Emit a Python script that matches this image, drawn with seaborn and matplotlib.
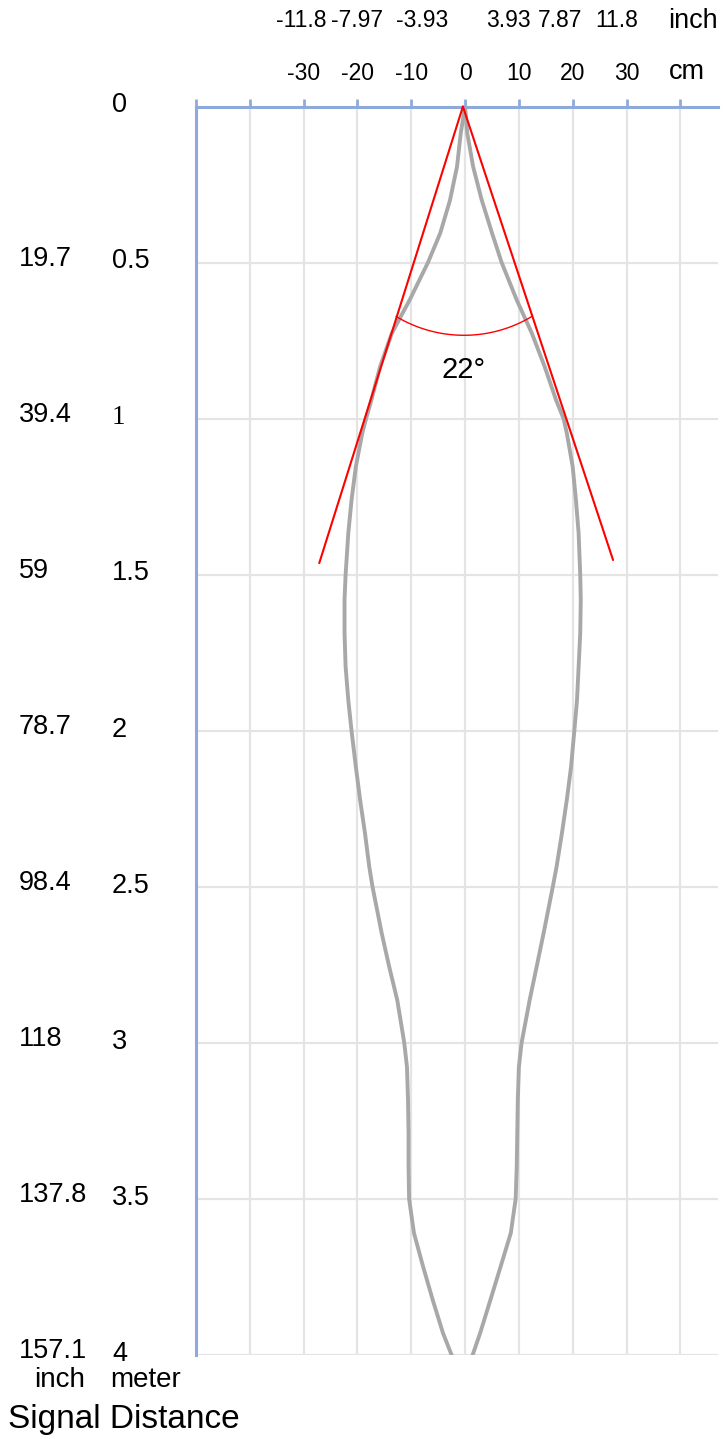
import numpy as np
import pandas as pd
import seaborn as sns
import matplotlib.pyplot as plt

# beam outline: distance (m) and half widths (cm)
depth_m = [0, 0.085, 0.193, 0.300, 0.405, 0.500, 0.620, 0.726, 0.834, 0.940,
           1.000, 1.046, 1.154, 1.261, 1.367, 1.500, 1.581, 1.687, 1.795, 1.902,
           2.000, 2.115, 2.222, 2.328, 2.436, 2.500, 2.648, 2.756, 2.863, 3.000,
           3.077, 3.183, 3.289, 3.397, 3.500, 3.609, 3.717, 3.824, 3.930, 4.000]
left_cm = [0, -0.8, -1.5, -2.8, -4.6, -6.9, -10.3, -13.6, -15.8, -17.4,
           -18.4, -19.1, -20.3, -21.1, -21.7, -22.2, -22.4, -22.4, -22.2, -21.7,
           -21.1, -20.3, -19.5, -18.6, -17.8, -17.2, -15.5, -14.1, -12.6, -11.3,
           -10.8, -10.6, -10.5, -10.5, -10.4, -9.5, -7.8, -6.0, -4.1, -2.5]
right_cm = [0, 0.4, 1.5, 3.1, 5.0, 6.8, 9.6, 12.4, 14.8, 16.9,
            18.3, 18.9, 20.0, 20.6, 21.1, 21.4, 21.5, 21.4, 21.1, 20.8,
            20.3, 19.7, 18.9, 18.0, 17.0, 16.3, 14.6, 13.3, 12.0, 10.5,
            10.0, 9.8, 9.7, 9.6, 9.4, 8.5, 6.6, 4.7, 2.8, 1.4]

# cone lines (22 deg) : apex and two ends, (cm, m)
cone_apex = (-0.4, 0.0)
cone_ends = [(-27.1, 1.463), (27.5, 1.453)]
cone_label = '22°'

# axis labels
cm_ticks = [-30, -20, -10, 0, 10, 20, 30]
inch_labels = ['-11.8', '-7.97', '-3.93', '3.93', '7.87', '11.8']
inch_label_x = [-30.5, -20.0, -8.0, 8.0, 17.7, 28.2]
meter_ticks = [0, 0.5, 1, 1.5, 2, 2.5, 3, 3.5, 4]
meter_labels = ['0', '0.5', '1', '1.5', '2', '2.5', '3', '3.5', '4']
depth_inch_labels = ['', '19.7', '39.4', '59', '78.7', '98.4', '118', '137.8', '157.1']

df = pd.concat([
    pd.DataFrame({'depth': depth_m, 'offset': left_cm, 'side': 'left'}),
    pd.DataFrame({'depth': depth_m, 'offset': right_cm, 'side': 'right'}),
])

sns.set_theme(style='white')
plt.rcParams['font.family'] = ['Liberation Sans', 'DejaVu Sans']
plt.rcParams['text.color'] = 'black'

blue = '#8eaadc'
fig = plt.figure(figsize=(7.24, 14.39), dpi=100)
ax = fig.add_axes([196 / 724, 84 / 1439, 522 / 724, 1248.5 / 1439])

sns.lineplot(data=df, x='offset', y='depth', hue='side', sort=False,
             estimator=None, palette={'left': '#a8a8a8', 'right': '#a8a8a8'},
             linewidth=2.8, legend=False, ax=ax, zorder=3)

# red cone and the angle arc
for end in cone_ends:
    ax.plot([cone_apex[0], end[0]], [cone_apex[1], end[1]], color='#ff0000',
            lw=1.5, zorder=4, clip_on=False)
t = np.radians(np.linspace(-31, 31, 60))
ax.plot(-0.2 + 24.5 * np.sin(t), 0.31 + 0.423 * np.cos(t), color='#ff0000',
        lw=1.0, zorder=4)
ax.text(-0.3, 0.844, cone_label, ha='center', va='center', fontsize=21)

ax.set_xlim(-50, 47)
ax.set_ylim(4, 0)
ax.set_xticks(range(-50, 41, 10))
ax.set_yticks(meter_ticks)
ax.set_xticklabels([])
ax.set_yticklabels([])
ax.xaxis.tick_top()
ax.tick_params(axis='both', direction='out', length=5.5, width=2, color=blue)
ax.grid(True, color='#e4e4e4', lw=1.6)
ax.set_axisbelow(True)
ax.set_xlabel('')
ax.set_ylabel('')
for s in ['bottom', 'right']:
    ax.spines[s].set_visible(False)
for s in ['top', 'left']:
    ax.spines[s].set_color(blue)
    ax.spines[s].set_linewidth(2.2)

# top labels (cm and inch rows)
for v in cm_ticks:
    ax.text(v, -0.107, str(v), ha='center', va='center', fontsize=16.5, clip_on=False)
for x, lab in zip(inch_label_x, inch_labels):
    ax.text(x, -0.277, lab, ha='center', va='center', fontsize=16.5, clip_on=False)
ax.text(37.8, -0.274, 'inch', ha='left', va='center', fontsize=19.5, clip_on=False)
ax.text(37.8, -0.110, 'cm', ha='left', va='center', fontsize=19.5, clip_on=False)

# left labels (meter and inch columns)
for m, lab, ilab in zip(meter_ticks, meter_labels, depth_inch_labels):
    fam = ['Liberation Serif'] if lab == '1' else ['Liberation Sans']
    ax.text(-65.6, m - 0.004, lab, ha='left', va='center', fontsize=19.5,
            family=fam, clip_on=False)
    if ilab:
        ax.text(-82.9, m - 0.013, ilab, ha='left', va='center', fontsize=19.5,
                clip_on=False)
ax.text(-75.3, 4.103, 'inch', ha='center', va='baseline', fontsize=20, clip_on=False)
ax.text(-59.3, 4.103, 'meter', ha='center', va='baseline', fontsize=20, clip_on=False)
ax.text(-84.9, 4.234, 'Signal Distance', ha='left', va='baseline', fontsize=24,
        clip_on=False)

fig.savefig('out.png', dpi=100)
